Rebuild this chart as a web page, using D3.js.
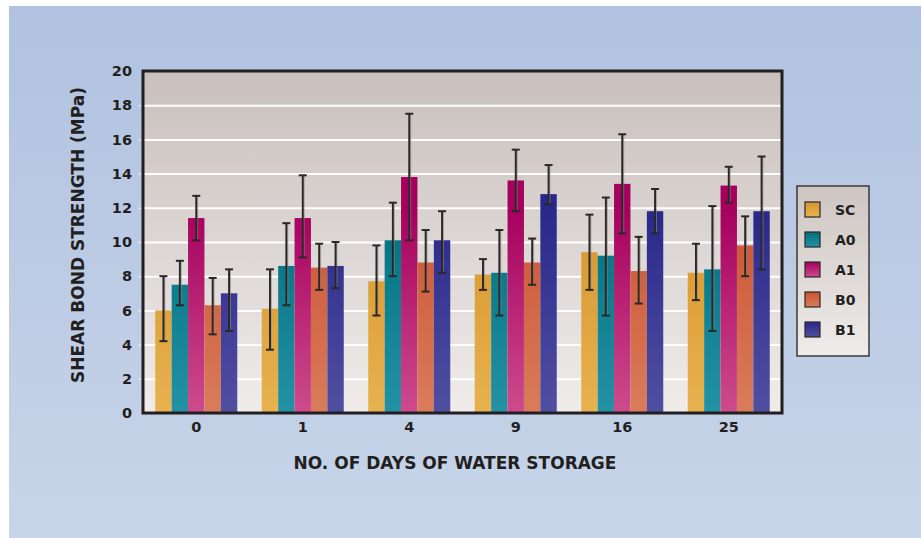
<!DOCTYPE html>
<html>
<head>
<meta charset="utf-8">
<script src="https://cdn.jsdelivr.net/npm/d3@7"></script>
<style>
  html, body { margin: 0; padding: 0; background: #ffffff; }
  svg { display: block; }
  text { font-family: "DejaVu Sans", sans-serif; font-weight: bold; fill: #231f20; }
</style>
</head>
<body>
<svg id="chart" width="921" height="538"></svg>
<script>
// ---- DATA ----
const days = ["0", "1", "4", "9", "16", "25"];
const seriesNames = ["SC", "A0", "A1", "B0", "B1"];
// mean shear bond strength (MPa), per series, per day
const valSC = [6.0, 6.1, 7.7, 8.1, 9.4, 8.2];
const valA0 = [7.5, 8.6, 10.1, 8.2, 9.2, 8.4];
const valA1 = [11.4, 11.4, 13.8, 13.6, 13.4, 13.3];
const valB0 = [6.3, 8.5, 8.8, 8.8, 8.3, 9.8];
const valB1 = [7.0, 8.6, 10.1, 12.8, 11.8, 11.8];
// error bar upper / lower ends
const hiSC = [8.0, 8.4, 9.8, 9.0, 11.6, 9.9];
const loSC = [4.2, 3.7, 5.7, 7.2, 7.2, 6.6];
const hiA0 = [8.9, 11.1, 12.3, 10.7, 12.6, 12.1];
const loA0 = [6.3, 6.3, 8.0, 5.7, 5.7, 4.8];
const hiA1 = [12.7, 13.9, 17.5, 15.4, 16.3, 14.4];
const loA1 = [10.1, 9.1, 10.1, 11.8, 10.5, 12.3];
const hiB0 = [7.9, 9.9, 10.7, 10.2, 10.3, 11.5];
const loB0 = [4.6, 7.2, 7.1, 7.5, 6.4, 8.0];
const hiB1 = [8.4, 10.0, 11.8, 14.5, 13.1, 15.0];
const loB1 = [4.8, 7.3, 8.2, 12.2, 10.5, 8.4];
const yTicks = [0, 2, 4, 6, 8, 10, 12, 14, 16, 18, 20];
const colorsTop = ["#d8952c", "#006f7e", "#a6005e", "#cb5332", "#28288a"];
const colorsBottom = ["#e7b24f", "#2492a5", "#cd4b8c", "#d97c5b", "#514fa1"];

const vals = [valSC, valA0, valA1, valB0, valB1];
const his = [hiSC, hiA0, hiA1, hiB0, hiB1];
const los = [loSC, loA0, loA1, loB0, loB1];

// ---- LAYOUT ----
const svg = d3.select("#chart");
const W = 921, H = 538;
const pLeft = 143, pRight = 782, pTop = 71, pBottom = 413;

const defs = svg.append("defs");
const bgGrad = defs.append("linearGradient").attr("id", "bgGrad").attr("x1", 0).attr("y1", 0).attr("x2", 0).attr("y2", 1);
bgGrad.append("stop").attr("offset", 0).attr("stop-color", "#b0c2e0");
bgGrad.append("stop").attr("offset", 1).attr("stop-color", "#c8d5e9");

const plotGrad = defs.append("linearGradient").attr("id", "plotGrad").attr("x1", 0).attr("y1", 0).attr("x2", 0).attr("y2", 1);
plotGrad.append("stop").attr("offset", 0).attr("stop-color", "#c9c0bd");
plotGrad.append("stop").attr("offset", 1).attr("stop-color", "#efecea");

const legGrad = defs.append("linearGradient").attr("id", "legGrad").attr("x1", 0).attr("y1", 0).attr("x2", 0).attr("y2", 1);
legGrad.append("stop").attr("offset", 0).attr("stop-color", "#cdc5c2");
legGrad.append("stop").attr("offset", 1).attr("stop-color", "#efecea");

seriesNames.forEach((s, i) => {
  const g = defs.append("linearGradient").attr("id", "barGrad" + i)
    .attr("gradientUnits", "userSpaceOnUse")
    .attr("x1", 0).attr("y1", pTop).attr("x2", 0).attr("y2", pBottom);
  g.append("stop").attr("offset", 0.4).attr("stop-color", colorsTop[i]);
  g.append("stop").attr("offset", 1).attr("stop-color", colorsBottom[i]);
  const lg = defs.append("linearGradient").attr("id", "legSw" + i).attr("x1", 0).attr("y1", 0).attr("x2", 0).attr("y2", 1);
  lg.append("stop").attr("offset", 0).attr("stop-color", colorsTop[i]);
  lg.append("stop").attr("offset", 1).attr("stop-color", colorsBottom[i]);
});

// page background
svg.append("rect").attr("x", 0).attr("y", 0).attr("width", W).attr("height", H).attr("fill", "#ffffff");
svg.append("rect").attr("x", 9).attr("y", 6).attr("width", W - 9).attr("height", H - 6).attr("fill", "url(#bgGrad)");

// scales
const x0 = d3.scaleBand().domain(days).range([pLeft, pRight]).paddingInner(0.23).paddingOuter(0.115);
const x1 = d3.scaleBand().domain(seriesNames).range([0, x0.bandwidth()]).padding(0);
const y = d3.scaleLinear().domain([0, 20]).range([pBottom, pTop]);

// plot background
svg.append("rect").attr("x", pLeft).attr("y", pTop).attr("width", pRight - pLeft).attr("height", pBottom - pTop).attr("fill", "url(#plotGrad)");

// gridlines
const grid = svg.append("g").attr("transform", `translate(${pLeft},0)`)
  .call(d3.axisLeft(y).tickValues(yTicks).tickSize(-(pRight - pLeft)).tickSizeOuter(0).tickFormat(""));
grid.select(".domain").remove();
grid.selectAll(".tick line").attr("stroke", "#ffffff").attr("stroke-width", 2);
grid.selectAll(".tick").filter(d => d === 0 || d === 20).remove();

// small outer ticks
const tickG = svg.append("g").attr("transform", `translate(${pLeft},0)`)
  .call(d3.axisLeft(y).tickValues(yTicks.filter(d => d > 0 && d < 20)).tickSize(5).tickFormat(""));
tickG.select(".domain").remove();
tickG.selectAll(".tick line").attr("stroke", "#e6e9f0").attr("stroke-width", 1.2);

// bars
const groups = svg.append("g").selectAll("g").data(days).join("g")
  .attr("transform", d => `translate(${x0(d)},0)`);

groups.selectAll("rect").data((d, di) => seriesNames.map((s, si) => ({ s, si, v: vals[si][di] })))
  .join("rect")
  .attr("x", d => x1(d.s))
  .attr("y", d => y(d.v))
  .attr("width", x1.bandwidth())
  .attr("height", d => y(0) - y(d.v))
  .attr("fill", d => `url(#barGrad${d.si})`);

// error bars
const errData = (d, di) => seriesNames.map((s, si) => ({ s, si, hi: his[si][di], lo: los[si][di] }));
const eg = groups.selectAll("g.err").data(errData).join("g").attr("class", "err")
  .attr("transform", d => `translate(${x1(d.s) + x1.bandwidth() / 2},0)`);
// shadow
eg.append("line").attr("x1", 0.7).attr("x2", 0.7).attr("y1", d => y(d.hi)).attr("y2", d => y(d.lo))
  .attr("stroke", "#8a8585").attr("stroke-width", 2.5).attr("opacity", 0.6);
eg.append("line").attr("x1", 0).attr("x2", 0).attr("y1", d => y(d.hi)).attr("y2", d => y(d.lo))
  .attr("stroke", "#2a2727").attr("stroke-width", 1.9);
eg.append("line").attr("x1", -4).attr("x2", 4).attr("y1", d => y(d.hi)).attr("y2", d => y(d.hi))
  .attr("stroke", "#2a2727").attr("stroke-width", 2);
eg.append("line").attr("x1", -4).attr("x2", 4).attr("y1", d => y(d.lo)).attr("y2", d => y(d.lo))
  .attr("stroke", "#2a2727").attr("stroke-width", 2);

// frame
svg.append("rect").attr("x", pLeft).attr("y", pTop).attr("width", pRight - pLeft).attr("height", pBottom - pTop)
  .attr("fill", "none").attr("stroke", "#231f20").attr("stroke-width", 3);

// y axis labels
const yAx = svg.append("g").attr("transform", `translate(${pLeft},0)`)
  .call(d3.axisLeft(y).tickValues(yTicks).tickSize(0).tickPadding(11));
yAx.select(".domain").remove();
yAx.selectAll("text").style("font-size", "14.5px").style("font-family", "DejaVu Sans").style("font-weight", "bold").attr("fill", "#231f20");

// x axis labels
const xAx = svg.append("g").attr("transform", `translate(0,${pBottom})`)
  .call(d3.axisBottom(x0).tickSize(0).tickPadding(9));
xAx.select(".domain").remove();
xAx.selectAll("text").style("font-size", "14.5px").style("font-family", "DejaVu Sans").style("font-weight", "bold").attr("fill", "#231f20");

// axis titles
svg.append("text").attr("x", 455).attr("y", 469).attr("text-anchor", "middle")
  .style("font-size", "17px").text("NO. OF DAYS OF WATER STORAGE");
svg.append("text").attr("transform", "translate(84,235) rotate(-90)").attr("text-anchor", "middle")
  .style("font-size", "17px").text("SHEAR BOND STRENGTH (MPa)");

// legend
const leg = svg.append("g").attr("transform", "translate(797,186)");
leg.append("rect").attr("x", 0).attr("y", 0).attr("width", 72).attr("height", 170)
  .attr("fill", "url(#legGrad)").attr("stroke", "#3a3838").attr("stroke-width", 1.5);
const li = leg.selectAll("g").data(seriesNames).join("g").attr("transform", (d, i) => `translate(8,${16 + i * 30})`);
li.append("rect").attr("width", 15).attr("height", 15).attr("fill", (d, i) => `url(#legSw${i})`)
  .attr("stroke", "#2a2727").attr("stroke-width", 1.2);
li.append("text").attr("x", 30).attr("y", 13).style("font-size", "14px").text(d => d);
</script>
</body>
</html>
